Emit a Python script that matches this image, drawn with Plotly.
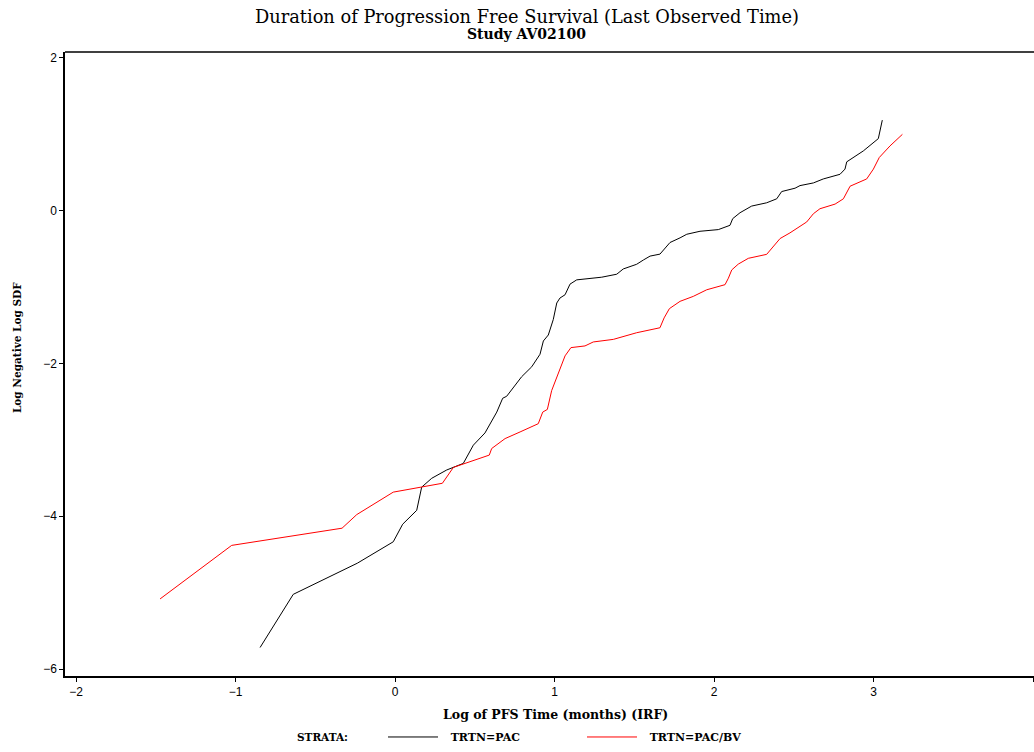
import plotly.graph_objects as go

# ---- data (log time, log(-log SDF)) ----
pac_x = [-0.846, -0.638, -0.236, -0.011, 0.048, 0.136, 0.167, 0.230, 0.324, 0.428,
         0.491, 0.537, 0.564, 0.638, 0.675, 0.700, 0.742, 0.794, 0.857, 0.909,
         0.930, 0.961, 0.992, 1.014, 1.034, 1.066, 1.097, 1.139, 1.296, 1.390,
         1.431, 1.515, 1.557, 1.599, 1.661, 1.724, 1.787, 1.829, 1.912, 2.027,
         2.100, 2.117, 2.163, 2.236, 2.330, 2.393, 2.424, 2.508, 2.539, 2.623,
         2.685, 2.790, 2.821, 2.832, 2.936, 3.030, 3.055]
pac_y = [-5.718, -5.022, -4.614, -4.334, -4.104, -3.922, -3.619, -3.503, -3.394, -3.308,
         -3.069, -2.961, -2.909, -2.636, -2.455, -2.429, -2.321, -2.173, -2.043, -1.879,
         -1.705, -1.627, -1.425, -1.208, -1.143, -1.100, -0.961, -0.905, -0.870, -0.831,
         -0.762, -0.701, -0.645, -0.594, -0.568, -0.416, -0.355, -0.308, -0.269, -0.247,
         -0.191, -0.104, -0.026, 0.061, 0.104, 0.156, 0.251, 0.295, 0.329, 0.364,
         0.416, 0.477, 0.545, 0.640, 0.783, 0.944, 1.186]

pacbv_x = [-1.473, -1.024, -0.332, -0.240, -0.011, 0.297, 0.366, 0.533, 0.591, 0.606,
           0.690, 0.784, 0.898, 0.926, 0.955, 0.982, 1.014, 1.034, 1.066, 1.103,
           1.191, 1.243, 1.369, 1.515, 1.661, 1.687, 1.720, 1.787, 1.870, 1.954,
           2.069, 2.090, 2.111, 2.152, 2.215, 2.330, 2.372, 2.414, 2.476, 2.529,
           2.581, 2.623, 2.664, 2.759, 2.811, 2.853, 2.957, 2.999, 3.036, 3.103,
           3.181]
pacbv_y = [-5.082, -4.381, -4.156, -3.978, -3.684, -3.568, -3.360, -3.238, -3.199, -3.113,
           -2.983, -2.896, -2.788, -2.636, -2.601, -2.355, -2.182, -2.052, -1.900, -1.792,
           -1.770, -1.718, -1.684, -1.597, -1.532, -1.403, -1.282, -1.186, -1.121, -1.035,
           -0.968, -0.883, -0.775, -0.699, -0.623, -0.571, -0.471, -0.364, -0.290, -0.212,
           -0.147, -0.039, 0.026, 0.087, 0.156, 0.321, 0.416, 0.545, 0.697, 0.848,
           1.000]

x_ticks = [-2, -1, 0, 1, 2, 3, 4]
y_ticks = [-6, -4, -2, 0, 2]

title_text = "Duration of Progression Free Survival (Last Observed Time)"
subtitle_text = "Study AV02100"
x_title = "Log of PFS Time (months) (IRF)"
y_title = "Log Negative Log SDF"
legend_title = "STRATA:"
series_names = ["TRTN=PAC", "TRTN=PAC/BV"]

# ---- layout geometry (pixels) ----
W, H = 1034, 752
K = 0.9935                      # measured vertical compression of the capture

def Y(y):                       # wanted picture y -> figure y
    return y / K

L, R = 65, 0
T = round(Y(52))
B = round(H - Y(681))
PW, PH = W - L - R, H - T - B

def px(xp):   # picture x -> paper x
    return (xp - L) / PW

def py(yp):   # picture y -> paper y
    return (H - B - Y(yp)) / PH

SERIF = "DejaVu Serif"
SANS = "Liberation Sans"
NB = "\u00a0\u00a0"

fig = go.Figure()
fig.add_trace(go.Scatter(x=pac_x, y=pac_y, mode="lines", name=NB + series_names[0],
                         line=dict(color="black", width=1)))
fig.add_trace(go.Scatter(x=pacbv_x, y=pacbv_y, mode="lines", name=NB + series_names[1],
                         line=dict(color="#ff0000", width=1)))

axis_common = dict(showgrid=False, zeroline=False, showline=True, linecolor="black",
                   linewidth=1.5, ticks="outside", ticklen=4, tickwidth=1,
                   tickcolor="black",
                   tickfont=dict(family=SANS, size=12, color="black"))

fig.update_xaxes(range=[-2.069, 4.006], tickmode="array", tickvals=x_ticks,
                 ticktext=[str(v).replace("-", "\u2212") for v in x_ticks],
                 mirror=False, **axis_common)
fig.update_yaxes(range=[-6.091, 2.078], tickmode="array", tickvals=y_ticks,
                 ticktext=[str(v).replace("-", "\u2212") for v in y_ticks],
                 **axis_common)

annotations = [
    dict(text=title_text, x=px(526.5), y=py(16), xref="paper", yref="paper",
         showarrow=False, font=dict(family=SERIF, size=17.8, color="black"),
         xanchor="center", yanchor="middle"),
    dict(text="<b>" + subtitle_text + "</b>", x=px(526.5), y=py(34), xref="paper",
         yref="paper", showarrow=False,
         font=dict(family=SERIF, size=14, color="black"),
         xanchor="center", yanchor="middle"),
    dict(text="<b>" + x_title + "</b>", x=px(555), y=py(719), xref="paper",
         yref="paper", showarrow=False,
         font=dict(family=SERIF, size=12.5, color="black"),
         xanchor="center", yanchor="middle"),
    dict(text="<b>" + y_title + "</b>", x=px(17), y=py(350), xref="paper",
         yref="paper", showarrow=False, textangle=-90,
         font=dict(family=SERIF, size=10.5, color="black"),
         xanchor="center", yanchor="middle"),
    dict(text="<b>" + legend_title + "</b>", x=px(295), y=py(742), xref="paper",
         yref="paper", showarrow=False,
         font=dict(family=SERIF, size=10.5, color="black"),
         xanchor="left", yanchor="middle"),
]

# top frame line
shapes = [dict(type="line", xref="paper", yref="paper", x0=0, x1=1, y0=1, y1=1,
               line=dict(color="black", width=1.5))]

fig.update_layout(
    width=W, height=H,
    margin=dict(l=L, r=R, t=T, b=B, pad=0),
    paper_bgcolor="white", plot_bgcolor="white",
    showlegend=True,
    legend=dict(orientation="h", x=px(383), xanchor="left", y=py(742),
                yanchor="middle", bgcolor="rgba(0,0,0,0)",
                font=dict(family=SERIF, size=11, color="black", weight="bold"),
                entrywidth=134, entrywidthmode="pixels",
                itemwidth=50),
    annotations=annotations,
    shapes=shapes,
)

fig.write_html(
    "out.html",
    config={"displayModeBar": False},
    post_script="document.body.style.margin='0px';"
                "document.body.style.overflow='hidden';",
)
